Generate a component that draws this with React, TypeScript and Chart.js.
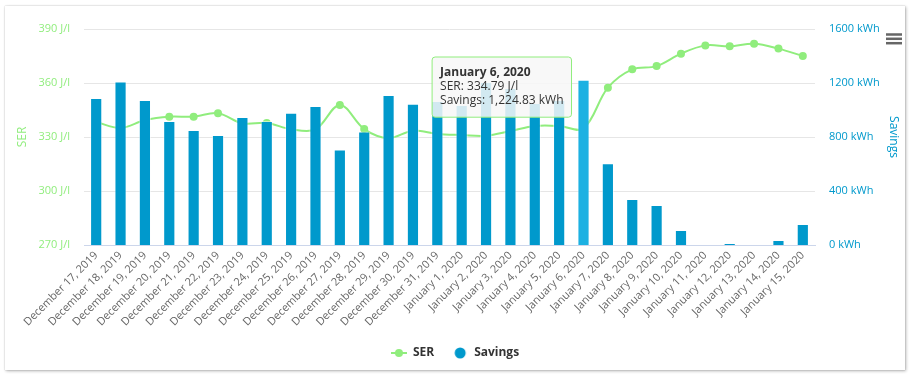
import React, { useEffect, useRef } from "react";
import { Chart, registerables, Tooltip } from "chart.js";

Chart.register(...registerables);

const categories = [
  "December 17, 2019", "December 18, 2019", "December 19, 2019", "December 20, 2019",
  "December 21, 2019", "December 22, 2019", "December 23, 2019", "December 24, 2019",
  "December 25, 2019", "December 26, 2019", "December 27, 2019", "December 28, 2019",
  "December 29, 2019", "December 30, 2019", "December 31, 2019", "January 1, 2020",
  "January 2, 2020", "January 3, 2020", "January 4, 2020", "January 5, 2020",
  "January 6, 2020", "January 7, 2020", "January 8, 2020", "January 9, 2020",
  "January 10, 2020", "January 11, 2020", "January 12, 2020", "January 13, 2020",
  "January 14, 2020", "January 15, 2020",
];

const serValues = [
  338.3, 335.0, 339.4, 341.3, 341.3, 343.2, 337.6, 337.8, 334.3, 334.2,
  347.8, 334.4, 329.4, 333.5, 331.7, 331.1, 330.7, 333.3, 336.1, 336.1,
  334.79, 357.4, 367.6, 369.4, 376.3, 380.9, 380.4, 381.8, 379.1, 375.0,
];

const savingsValues = [
  1089, 1212, 1074, 919, 852, 815, 948, 919, 980, 1030,
  707, 840, 1111, 1046, 1067, 1037, 1207, 1163, 1052, 1074,
  1224.83, 605, 341, 296, 111, 0, 15, 0, 37, 156,
];

const serTicks = [270, 300, 330, 360, 390];
const savingsTicks = [0, 400, 800, 1200, 1600];
const activeIndex = 20;

const FONT = "'Open Sans', 'Noto Sans', sans-serif";
const GREEN = "#90ED7D";
const BLUE = "#0099CC";
const BLUE_HOVER = "#1CB1E2";

function makeLineSymbol(): HTMLCanvasElement {
  const c = document.createElement("canvas");
  c.width = 16;
  c.height = 10;
  const ctx = c.getContext("2d")!;
  ctx.strokeStyle = GREEN;
  ctx.lineWidth = 2;
  ctx.beginPath();
  ctx.moveTo(0, 5);
  ctx.lineTo(16, 5);
  ctx.stroke();
  ctx.fillStyle = GREEN;
  ctx.beginPath();
  ctx.arc(8, 5, 4, 0, Math.PI * 2);
  ctx.fill();
  return c;
}

function makeCircleSymbol(): HTMLCanvasElement {
  const c = document.createElement("canvas");
  c.width = 16;
  c.height = 12;
  const ctx = c.getContext("2d")!;
  ctx.fillStyle = BLUE;
  ctx.beginPath();
  ctx.arc(8, 6, 5.5, 0, Math.PI * 2);
  ctx.fill();
  return c;
}

(Tooltip as any).positioners.fixedLeft = function (elements: any[]) {
  if (!elements.length) return false;
  const bar = elements.find((e: any) => e.datasetIndex === 1) || elements[0];
  return { x: bar.element.x - 15, y: this.chart.chartArea.top + 28 };
};

const menuPlugin = {
  id: "menuIcon",
  afterDraw(chart: any) {
    const ctx = chart.ctx;
    const w = chart.width;
    ctx.save();
    ctx.strokeStyle = "#666666";
    ctx.lineWidth = 2.5;
    [28.5, 32.8, 37.2].forEach((y) => {
      ctx.beginPath();
      ctx.moveTo(w - 19, y);
      ctx.lineTo(w - 3, y);
      ctx.stroke();
    });
    ctx.restore();
  },
};

export default function App() {
  const ref = useRef<HTMLCanvasElement | null>(null);

  useEffect(() => {
    if (!ref.current) return;
    const lineSymbol = makeLineSymbol();
    const circleSymbol = makeCircleSymbol();
    const chart = new Chart(ref.current, {
      type: "bar",
      data: {
        labels: categories,
        datasets: [
          {
            type: "line",
            label: "SER",
            data: serValues,
            yAxisID: "ySer",
            borderColor: GREEN,
            backgroundColor: GREEN,
            borderWidth: 2,
            pointRadius: 4,
            pointHoverRadius: 4,
            pointBackgroundColor: GREEN,
            pointBorderWidth: 0,
            pointHoverBorderWidth: 0,
            tension: 0.35,
            order: 2,
          } as any,
          {
            type: "bar",
            label: "Savings",
            data: savingsValues,
            yAxisID: "ySav",
            backgroundColor: BLUE,
            hoverBackgroundColor: BLUE_HOVER,
            borderColor: "rgba(255,255,255,0.5)",
            hoverBorderColor: "rgba(255,255,255,0.5)",
            borderWidth: 1,
            barPercentage: 0.5,
            categoryPercentage: 1,
            order: 1,
          } as any,
        ],
      },
      options: {
        responsive: true,
        maintainAspectRatio: false,
        animation: false,
        events: [],
        layout: { padding: { top: 23, bottom: 1, left: 0, right: 0 } },
        scales: {
          x: {
            offset: true,
            grid: { display: false, drawTicks: false },
            border: { display: true, color: "#ccd6eb" },
            ticks: {
              autoSkip: false,
              maxRotation: 45,
              minRotation: 45,
              padding: 4,
              color: "#666666",
              font: { family: FONT, size: 11 },
            },
            afterFit: (s: any) => {
              s.height = 84;
            },
          },
          ySer: {
            type: "linear",
            position: "left",
            min: serTicks[0],
            max: serTicks[serTicks.length - 1],
            afterBuildTicks: (s: any) => {
              s.ticks = serTicks.map((v) => ({ value: v }));
            },
            grid: { color: "#e6e6e6", drawTicks: false },
            border: { display: false },
            ticks: {
              padding: 14,
              color: GREEN,
              font: { family: FONT, size: 11 },
              callback: (v: any) => `${v} J/l`,
            },
            title: {
              display: true,
              text: "SER",
              color: GREEN,
              font: { family: FONT, size: 12 },
              padding: { top: 10, bottom: 0 },
            },
            afterFit: (s: any) => {
              s.width = 79;
            },
          },
          ySav: {
            type: "linear",
            position: "right",
            min: savingsTicks[0],
            max: savingsTicks[savingsTicks.length - 1],
            afterBuildTicks: (s: any) => {
              s.ticks = savingsTicks.map((v) => ({ value: v }));
            },
            grid: { display: false, drawTicks: false },
            border: { display: false },
            ticks: {
              padding: 14,
              color: BLUE,
              font: { family: FONT, size: 11 },
              callback: (v: any) => `${v} kWh`,
            },
            title: {
              display: true,
              text: "Savings",
              color: BLUE,
              font: { family: FONT, size: 12 },
              padding: { top: 4, bottom: 0 },
            },
            afterFit: (s: any) => {
              s.width = 90;
            },
          },
        },
        plugins: {
          legend: {
            position: "bottom",
            labels: {
              usePointStyle: true,
              pointStyleWidth: 16,
              boxHeight: 12,
              padding: 18,
              color: "#333333",
              font: { family: FONT, size: 12, weight: "bold" },
              sort: (a: any, b: any) => a.datasetIndex - b.datasetIndex,
              generateLabels: (ch: any) => {
                const items = Chart.defaults.plugins.legend.labels.generateLabels(ch);
                return items.map((it: any) => ({
                  ...it,
                  pointStyle: it.datasetIndex === 0 ? lineSymbol : circleSymbol,
                }));
              },
            },
          },
          tooltip: {
            enabled: true,
            position: "fixedLeft" as any,
            xAlign: "right",
            yAlign: "top",
            caretSize: 0,
            caretPadding: 0,
            cornerRadius: 3,
            backgroundColor: "rgba(247,247,247,0.85)",
            borderColor: GREEN,
            borderWidth: 1,
            titleColor: "#333333",
            bodyColor: "#333333",
            titleFont: { family: FONT, size: 12, weight: "bold" },
            bodyFont: { family: FONT, size: 12 },
            padding: { top: 8, bottom: 9, left: 8, right: 8 },
            titleMarginBottom: 0,
            bodySpacing: 0,
            displayColors: false,
            itemSort: (a: any, b: any) => a.datasetIndex - b.datasetIndex,
            callbacks: {
              label: (c: any) => {
                const v = c.parsed.y;
                if (c.datasetIndex === 0) {
                  return `SER: ${v.toLocaleString("en-US", { minimumFractionDigits: 2, maximumFractionDigits: 2 })} J/l`;
                }
                return `Savings: ${v.toLocaleString("en-US", { minimumFractionDigits: 2, maximumFractionDigits: 2 })} kWh`;
              },
            },
          },
        },
      },
      plugins: [menuPlugin],
    });

    const active = [
      { datasetIndex: 0, index: activeIndex },
      { datasetIndex: 1, index: activeIndex },
    ];
    chart.setActiveElements(active);
    chart.tooltip!.setActiveElements(active, { x: 0, y: 0 });
    chart.update();

    return () => chart.destroy();
  }, []);

  return (
    <div
      style={{
        position: "absolute",
        left: 5,
        top: 6,
        width: 900,
        height: 364,
        background: "#ffffff",
        boxShadow: "1px 1px 3px rgba(0,0,0,0.3), 0 0 1px rgba(0,0,0,0.25)",
      }}
    >
      <canvas ref={ref} />
    </div>
  );
}
